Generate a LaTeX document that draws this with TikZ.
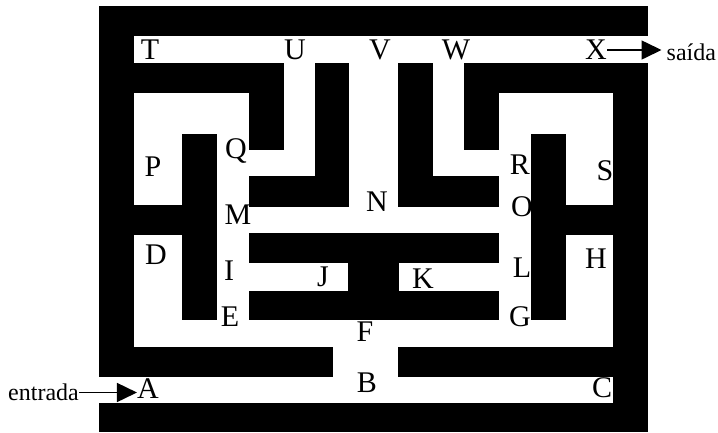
\documentclass[tikz,border=0pt]{standalone}
\usepackage{fontspec}
\setmainfont{Liberation Serif}
\usetikzlibrary{arrows.meta}

\begin{document}
\begin{tikzpicture}[
  x=1pt,y=-1pt,
  wall/.style={fill=black},
  lbl/.style={inner sep=0pt,font=\fontsize{30}{30}\selectfont},
  side/.style={inner sep=0pt,font=\fontsize{24}{24}\selectfont},
  arr/.style={-{Triangle[length=20pt,width=19pt]},line width=1.6pt}
]
\useasboundingbox (0,0) rectangle (718,432);
% top row
\node[lbl] (T) at (150,50) {T};
\node[lbl] (U) at (295,50) {U};
\node[lbl] (V) at (380,50) {V};
\node[lbl] (W) at (456,50) {W};
\node[lbl] (X) at (596,50) {X};
% upper half
\node[lbl] (Q) at (236,151) {Q};
\node[lbl] (P) at (153,167) {P};
\node[lbl] (R) at (520,165) {R};
\node[lbl] (S) at (605,171) {S};
\node[lbl] (M) at (238,215) {M};
\node[lbl] (N) at (377,202) {N};
\node[lbl] (O) at (522,207) {O};
% lower half
\node[lbl] (D) at (156,255) {D};
\node[lbl] (I) at (229,271) {I};
\node[lbl] (J) at (323,277) {J};
\node[lbl] (E) at (230,317) {E};
\node[lbl] (K) at (423,279) {K};
\node[lbl] (L) at (522,268) {L};
\node[lbl] (H) at (596,259) {H};
\node[lbl] (G) at (520,317) {G};
\node[lbl] (F) at (365,332) {F};
\node[lbl] (B) at (367,383) {B};
\node[lbl] (C) at (602,388) {C};
\node[lbl] (A) at (148,389) {A};
% way in and way out
\node[side,anchor=east] (entrada) at (79,392.5) {entrada};
\node[side,anchor=west] (saida) at (666.5,52.5) {saída};
\draw[arr] (entrada.east) -- (entrada.east -| A.west);
\draw[arr] (X.east) -- ([xshift=-5pt]X.east -| saida.west);
% outer walls
\fill[wall] (98.7,6) rectangle (648.3,36);
\fill[wall] (98.7,6) rectangle (134,377.3);
\fill[wall] (98.7,403.3) rectangle (648.3,432);
\fill[wall] (613.3,63) rectangle (648.3,432);
% left blocks
\fill[wall] (134,63) rectangle (283.7,93);
\fill[wall] (248.7,63) rectangle (283.7,150);
\fill[wall] (182,134) rectangle (217,320.3);
\fill[wall] (134,204.7) rectangle (217,235);
\fill[wall] (315.3,63) rectangle (349.3,206.7);
\fill[wall] (248.7,176) rectangle (349.3,206.7);
% right blocks
\fill[wall] (398.3,63) rectangle (433,206.7);
\fill[wall] (398.3,176) rectangle (499,206.7);
\fill[wall] (464,63) rectangle (648.3,93);
\fill[wall] (464,63) rectangle (499,150);
\fill[wall] (530.7,134) rectangle (566,320.3);
\fill[wall] (566,204.7) rectangle (613.3,235);
% middle H
\fill[wall] (248.7,233.3) rectangle (499,263);
\fill[wall] (248.7,290.7) rectangle (499,320.3);
\fill[wall] (347.7,233.3) rectangle (399.3,320.3);
% bottom bars
\fill[wall] (134,347.3) rectangle (333.3,377.3);
\fill[wall] (397.7,347.3) rectangle (613.3,377.3);
\end{tikzpicture}
\end{document}
